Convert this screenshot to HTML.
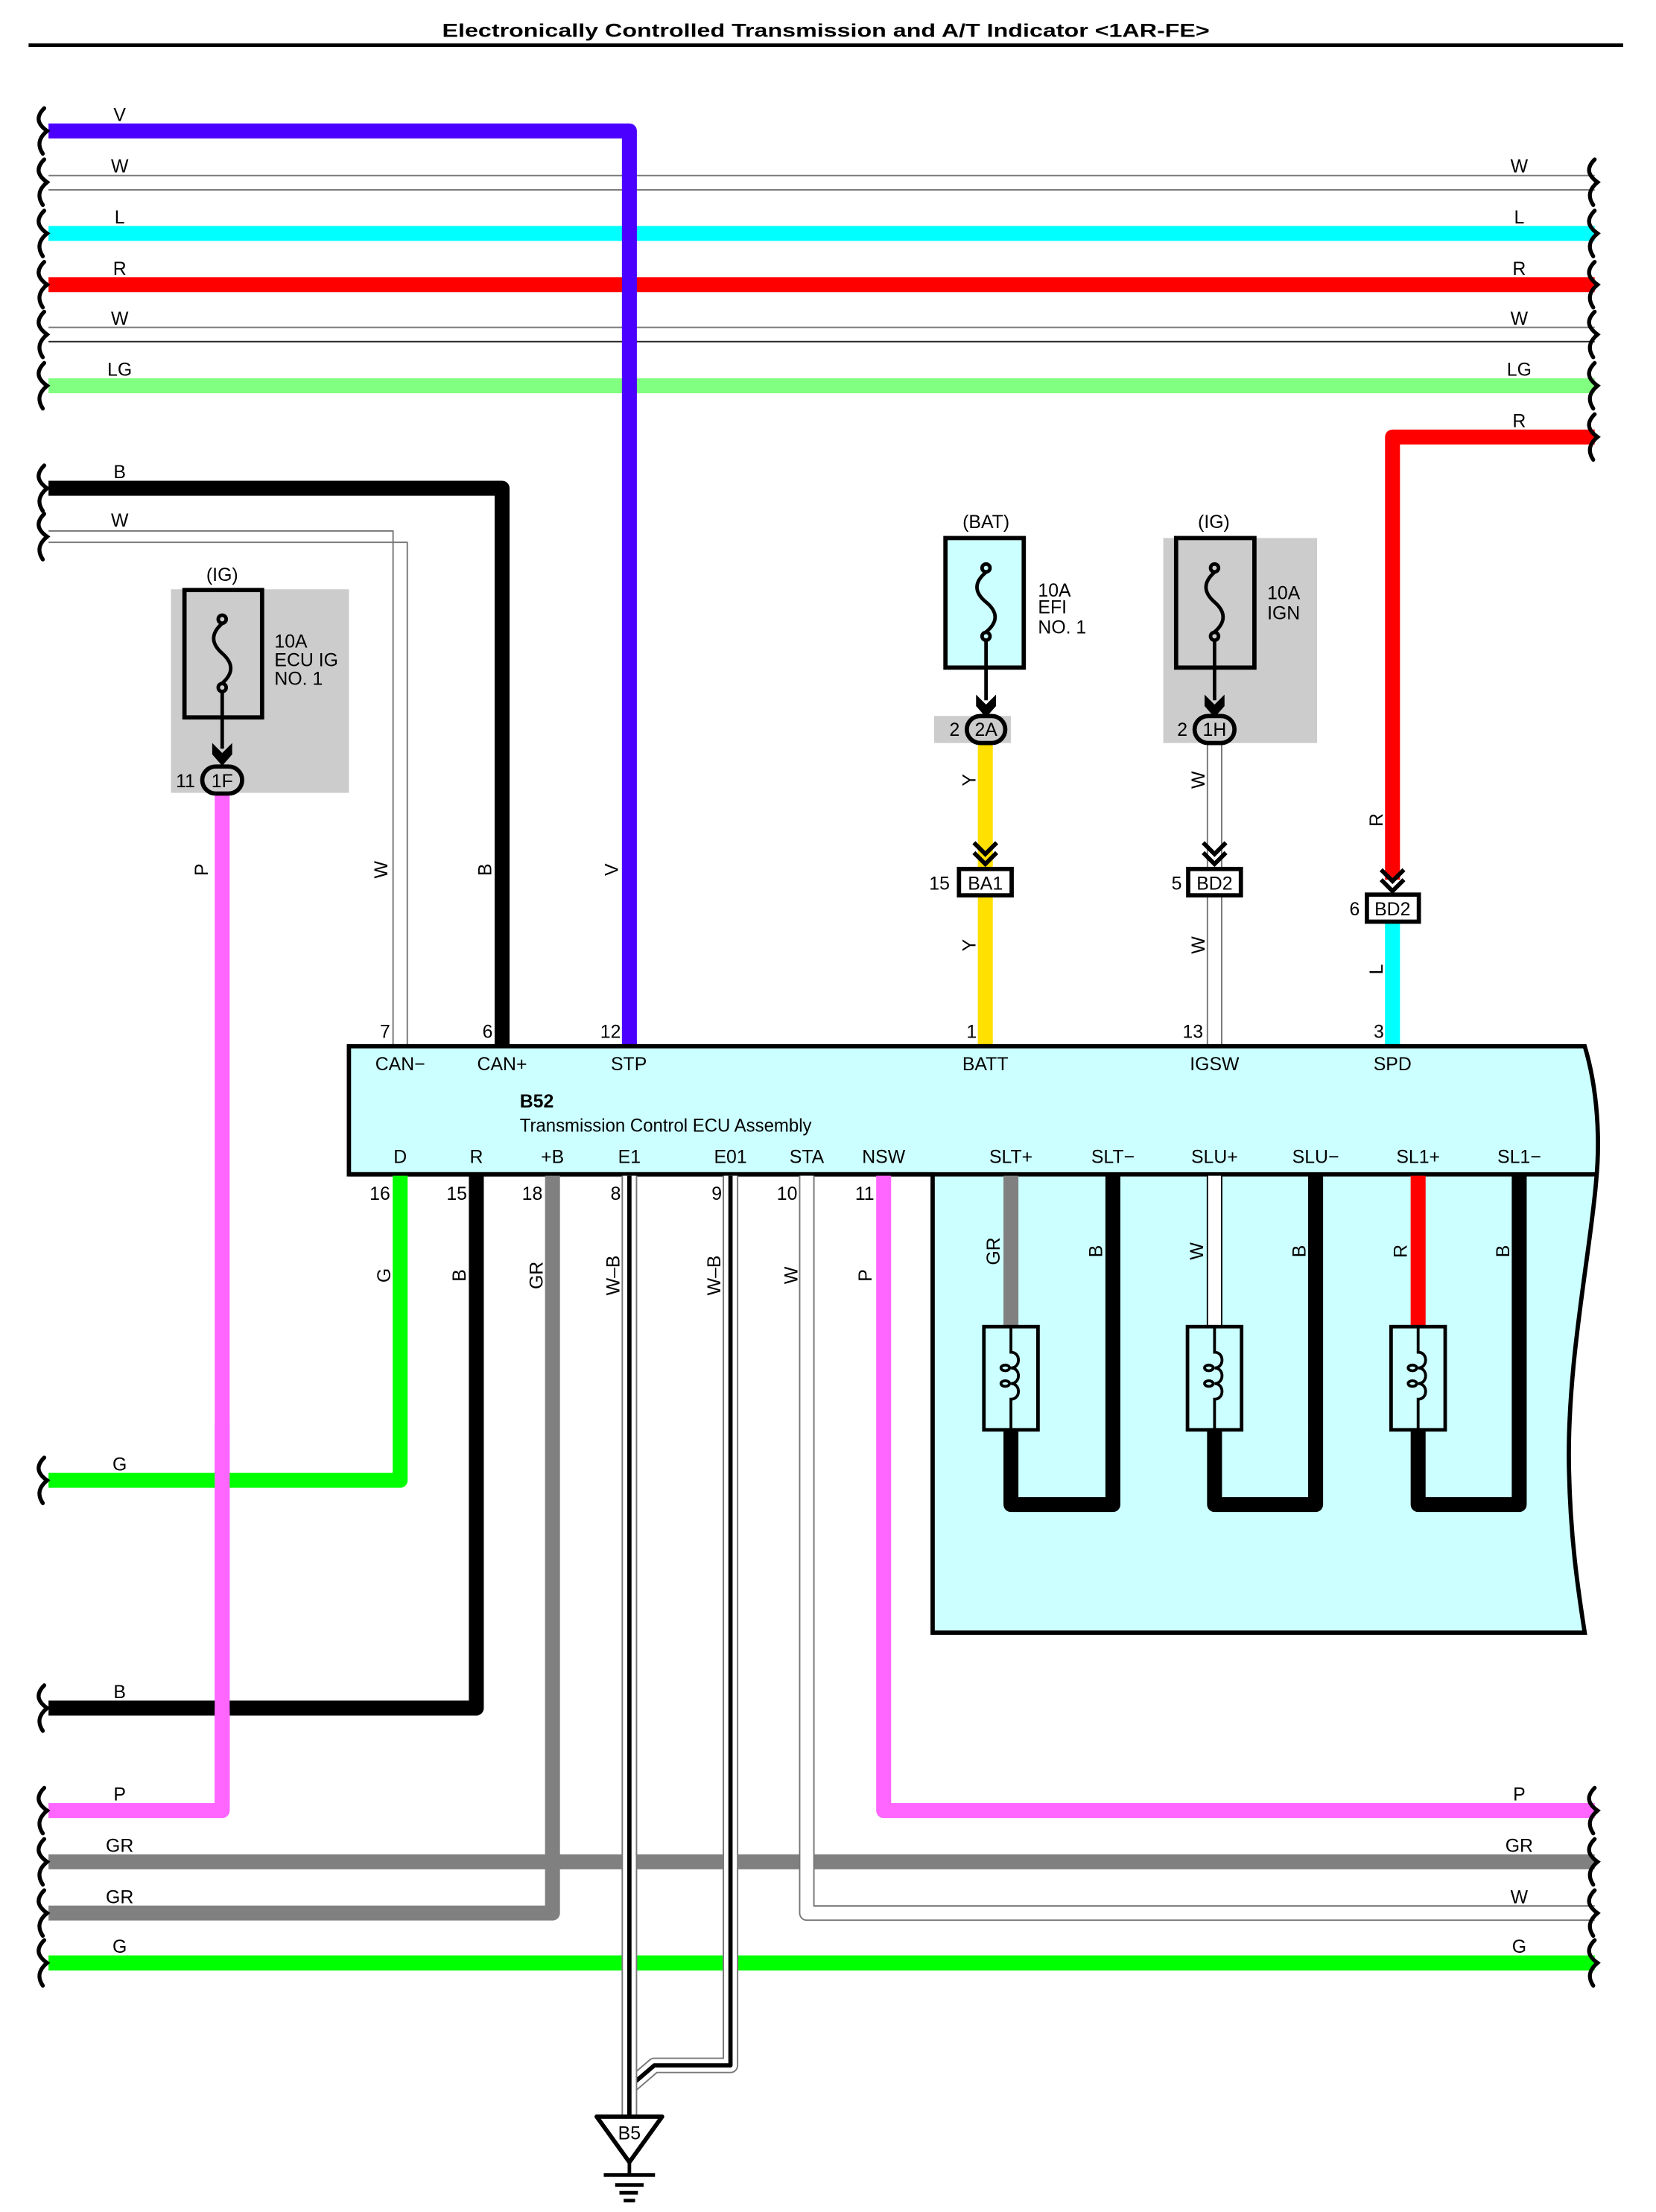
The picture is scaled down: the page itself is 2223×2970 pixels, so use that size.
<!DOCTYPE html>
<html><head><meta charset="utf-8"><style>
html,body{margin:0;padding:0;background:#fff}
svg{display:block}
text{font-family:"Liberation Sans",Arial,sans-serif;font-size:13px;fill:#000}
</style></head><body>
<svg width="2223" height="2970" viewBox="0 0 1163 1554" xmlns="http://www.w3.org/2000/svg">
<!-- title -->
<text x="580" y="26" text-anchor="middle" font-weight="bold" font-size="15.5" textLength="539" lengthAdjust="spacingAndGlyphs">Electronically Controlled Transmission and A/T Indicator &lt;1AR-FE&gt;</text>
<rect x="20" y="30.5" width="1120" height="2.5" fill="#000"/>

<g fill="none" stroke-linejoin="round">
<!-- top horizontals -->
<line x1="34" y1="164" x2="1120" y2="164" stroke="#00ffff" stroke-width="10.5"/>
<line x1="34" y1="200" x2="1120" y2="200" stroke="#ff0000" stroke-width="10.5"/>
<line x1="34" y1="271" x2="1120" y2="271" stroke="#80ff80" stroke-width="10.5"/>
<line x1="34" y1="123.3" x2="1120" y2="123.3" stroke="#777" stroke-width="1"/>
<line x1="34" y1="133.4" x2="1120" y2="133.4" stroke="#777" stroke-width="1"/>
<line x1="34" y1="230" x2="1120" y2="230" stroke="#777" stroke-width="1"/>
<line x1="34" y1="240" x2="1120" y2="240" stroke="#222" stroke-width="1"/>
<!-- V -->
<path d="M34,92 H442 V735" stroke="#4b00ff" stroke-width="10.5"/>
<!-- right R to BD2 -->
<path d="M1120,307 H978 V618" stroke="#ff0000" stroke-width="10.5"/>
<line x1="978" y1="648" x2="978" y2="735" stroke="#00ffff" stroke-width="10.5"/>
<!-- left B / W -->
<path d="M34,343 H352.6 V735" stroke="#000" stroke-width="10.5"/>
<path d="M34,373 H276 V735" stroke="#777" stroke-width="1"/>
<path d="M34,381 H286 V735" stroke="#777" stroke-width="1"/>
<!-- yellow -->
<line x1="692" y1="522" x2="692" y2="735" stroke="#ffe000" stroke-width="10.5"/>
<!-- W IGSW -->
<line x1="848" y1="522" x2="848" y2="735" stroke="#777" stroke-width="1"/>
<line x1="858" y1="522" x2="858" y2="735" stroke="#777" stroke-width="1"/>
</g>

<!-- fuse ECU IG -->
<rect x="120" y="414" width="125" height="143" fill="#cccccc"/>
<rect x="129.5" y="414.5" width="54.5" height="89.5" fill="none" stroke="#000" stroke-width="3"/>
<text x="156" y="408" text-anchor="middle">(IG)</text>
<text x="192.7" y="455">10A</text><text x="192.7" y="468">ECU IG</text><text x="192.7" y="481">NO. 1</text>
<g fill="none" stroke="#000" stroke-width="2.5">
<circle cx="156" cy="435" r="2.8"/><circle cx="156" cy="483" r="2.8"/>
<path d="M156,438 C148,445 148,452 156,459 C164,466 164,473 156,480"/>
<line x1="156" y1="486" x2="156" y2="526"/>
</g>
<polygon points="149,522 156,529 163,522 163,530 156,538 149,530" fill="#000"/>
<line x1="156" y1="557" x2="156" y2="1272" stroke="#ff66ff" stroke-width="10.5"/>
<rect x="142" y="538.5" width="28" height="19" rx="9.5" fill="#ccc" stroke="#000" stroke-width="3"/>
<text x="156" y="553" text-anchor="middle">1F</text>
<text x="137" y="553" text-anchor="end">11</text>

<!-- BAT fuse -->
<rect x="664" y="378" width="55" height="91" fill="#ccffff" stroke="#000" stroke-width="3"/>
<text x="692.5" y="371" text-anchor="middle">(BAT)</text>
<text x="729" y="419">10A</text><text x="729" y="431">EFI</text><text x="729" y="445">NO. 1</text>
<g fill="none" stroke="#000" stroke-width="2.5">
<circle cx="692.5" cy="399" r="2.8"/><circle cx="692.5" cy="447" r="2.8"/>
<path d="M692.5,402 C684,409 684,416 692.5,423 C701,430 701,437 692.5,444"/>
<line x1="692.5" y1="450" x2="692.5" y2="492"/>
</g>
<rect x="656" y="503" width="54" height="19" fill="#cccccc"/>
<polygon points="685.5,488 692.5,495 699.5,488 699.5,496 692.5,504 685.5,496" fill="#000"/>
<rect x="679" y="503" width="27" height="19" rx="9.5" fill="#ccc" stroke="#000" stroke-width="3"/>
<text x="692.5" y="517" text-anchor="middle">2A</text>
<text x="674" y="517" text-anchor="end">2</text>

<!-- IG fuse -->
<rect x="817" y="378" width="108" height="144" fill="#cccccc"/>
<rect x="826" y="378" width="55" height="91" fill="none" stroke="#000" stroke-width="3"/>
<text x="852.5" y="371" text-anchor="middle">(IG)</text>
<text x="890" y="421">10A</text><text x="890" y="435">IGN</text>
<g fill="none" stroke="#000" stroke-width="2.5">
<circle cx="853" cy="399" r="2.8"/><circle cx="853" cy="447" r="2.8"/>
<path d="M853,402 C845,409 845,416 853,423 C861,430 861,437 853,444"/>
<line x1="853" y1="450" x2="853" y2="492"/>
</g>
<polygon points="846,488 853,495 860,488 860,496 853,504 846,496" fill="#000"/>
<rect x="839" y="503" width="28" height="19" rx="9.5" fill="#ccc" stroke="#000" stroke-width="3"/>
<text x="853" y="517" text-anchor="middle">1H</text>
<text x="834" y="517" text-anchor="end">2</text>

<!-- inline connectors -->
<g fill="none" stroke="#000" stroke-width="3">
<polyline points="684,592 692,600 700,592"/><polyline points="684,599 692,607 700,599"/>
<polyline points="845,592 853,600 861,592"/><polyline points="845,599 853,607 861,599"/>
<polyline points="970,611 978,619 986,611"/><polyline points="970,618 978,626 986,618"/>
</g>
<rect x="673.5" y="610.5" width="37" height="18.5" fill="#fff" stroke="#000" stroke-width="3"/>
<text x="692" y="625" text-anchor="middle">BA1</text><text x="667" y="625" text-anchor="end">15</text>
<rect x="834.5" y="610.5" width="37" height="18.5" fill="#fff" stroke="#000" stroke-width="3"/>
<text x="853" y="625" text-anchor="middle">BD2</text><text x="830" y="625" text-anchor="end">5</text>
<rect x="960" y="628.5" width="36.5" height="19" fill="#fff" stroke="#000" stroke-width="3"/>
<text x="978" y="643" text-anchor="middle">BD2</text><text x="955" y="643" text-anchor="end">6</text>

<!-- ECU body -->
<path d="M245,735 H1113 C1122,765 1124,800 1121,830 C1117,880 1100,960 1102,1034 C1103,1080 1108,1115 1113,1147 H655 V825 H245 Z" fill="#ccffff" stroke="#000" stroke-width="3"/>
<line x1="245" y1="825" x2="1121" y2="825" stroke="#000" stroke-width="3"/>
<g text-anchor="middle">
<text x="281" y="752">CAN−</text><text x="352.6" y="752">CAN+</text><text x="441.6" y="752">STP</text>
<text x="692" y="752">BATT</text><text x="853" y="752">IGSW</text><text x="978" y="752">SPD</text>
<text x="281" y="817">D</text><text x="334.5" y="817">R</text><text x="388" y="817">+B</text><text x="442" y="817">E1</text>
<text x="513" y="817">E01</text><text x="566.6" y="817">STA</text><text x="620.6" y="817">NSW</text>
<text x="710" y="817">SLT+</text><text x="781.6" y="817">SLT−</text><text x="853" y="817">SLU+</text>
<text x="924" y="817">SLU−</text><text x="996" y="817">SL1+</text><text x="1067" y="817">SL1−</text>
</g>
<text x="365" y="778" font-weight="bold">B52</text>
<text x="365" y="795" textLength="205" lengthAdjust="spacingAndGlyphs">Transmission Control ECU Assembly</text>

<!-- top pin numbers -->
<g text-anchor="end">
<text x="274" y="729">7</text><text x="346" y="729">6</text><text x="436" y="729">12</text>
<text x="686" y="729">1</text><text x="845" y="729">13</text><text x="972" y="729">3</text>
<text x="274" y="843">16</text><text x="328" y="843">15</text><text x="381" y="843">18</text>
<text x="436" y="843">8</text><text x="507" y="843">9</text><text x="560" y="843">10</text><text x="614" y="843">11</text>
</g>

<!-- solenoids -->
<g fill="none" stroke-linejoin="round">
<line x1="710" y1="826" x2="710" y2="932" stroke="#808080" stroke-width="10.5"/>
<line x1="848" y1="826" x2="848" y2="932" stroke="#000" stroke-width="1"/>
<line x1="858" y1="826" x2="858" y2="932" stroke="#000" stroke-width="1"/>
<rect x="848.5" y="826" width="9" height="106" fill="#fff" stroke="none"/>
<line x1="996" y1="826" x2="996" y2="932" stroke="#ff0000" stroke-width="10.5"/>
<path d="M710,1004 V1057 H781.6 V826" stroke="#000" stroke-width="10.5"/>
<path d="M853,1004 V1057 H924 V826" stroke="#000" stroke-width="10.5"/>
<path d="M996,1004 V1057 H1067 V826" stroke="#000" stroke-width="10.5"/>
</g>
<g fill="#ccffff" stroke="#000" stroke-width="2.5">
<rect x="691" y="932" width="38" height="72.5"/>
<rect x="834" y="932" width="38" height="72.5"/>
<rect x="977" y="932" width="38" height="72.5"/>
</g>
<g fill="none" stroke="#000" stroke-width="2">
<path d="M710,932 V950 c7,0 7,11 0,11 c7,0 7,11 0,11 c7,0 7,11 0,11 V1004"/>
<ellipse cx="706" cy="961" rx="3" ry="2"/><ellipse cx="706" cy="972" rx="3" ry="2"/>
<path d="M853,932 V950 c7,0 7,11 0,11 c7,0 7,11 0,11 c7,0 7,11 0,11 V1004"/>
<ellipse cx="849" cy="961" rx="3" ry="2"/><ellipse cx="849" cy="972" rx="3" ry="2"/>
<path d="M996,932 V950 c7,0 7,11 0,11 c7,0 7,11 0,11 c7,0 7,11 0,11 V1004"/>
<ellipse cx="992" cy="961" rx="3" ry="2"/><ellipse cx="992" cy="972" rx="3" ry="2"/>
</g>

<!-- bottom horizontals -->
<g fill="none" stroke-linejoin="round">
<line x1="34" y1="1308" x2="1120" y2="1308" stroke="#808080" stroke-width="10.5"/>
<line x1="34" y1="1379" x2="1120" y2="1379" stroke="#00ff00" stroke-width="10.5"/>
<path d="M281,826 V1040 H34" stroke="#00ff00" stroke-width="10.5"/>
<path d="M334.5,826 V1200 H34" stroke="#000" stroke-width="10.5"/>
<path d="M388,826 V1344 H34" stroke="#808080" stroke-width="10.5"/>
<path d="M620.6,826 V1272 H1120" stroke="#ff66ff" stroke-width="10.5"/>
<path d="M156,1200 V1272 H34" stroke="#ff66ff" stroke-width="10.5"/>
<!-- STA W -->
<path d="M566.6,826 V1344 H1120" stroke="#777" stroke-width="11"/>
<path d="M566.6,826 V1344 H1120" stroke="#fff" stroke-width="9"/>
<!-- E01 -->
<path d="M513,826 V1451 H459.5 L442,1466" stroke="#777" stroke-width="11"/>
<path d="M513,826 V1451 H459.5 L442,1466" stroke="#fff" stroke-width="9"/>
<path d="M513,826 V1451 H459.5 L442,1466" stroke="#000" stroke-width="3"/>
<!-- E1 -->
<line x1="442" y1="826" x2="442" y2="1487" stroke="#777" stroke-width="11"/>
<line x1="442" y1="826" x2="442" y2="1487" stroke="#fff" stroke-width="9"/>
<line x1="442" y1="826" x2="442" y2="1487" stroke="#000" stroke-width="3"/>
</g>
<!-- pink on top of G/B crossings -->
<line x1="156" y1="1000" x2="156" y2="1267" stroke="#ff66ff" stroke-width="10.5"/>

<!-- ground -->
<polygon points="419,1487 465,1487 442,1519" fill="#fff" stroke="#000" stroke-width="3" stroke-linejoin="round"/>
<text x="442" y="1503" text-anchor="middle" font-size="12">B5</text>
<g stroke="#000" stroke-width="2.5">
<line x1="442" y1="1519" x2="442" y2="1528"/>
<line x1="424" y1="1528" x2="460" y2="1528"/>
<line x1="432" y1="1535" x2="452" y2="1535"/>
<line x1="435" y1="1540.5" x2="448" y2="1540.5"/>
<line x1="438" y1="1546" x2="446" y2="1546"/>
</g>

<!-- break marks -->
<g fill="none" stroke="#000" stroke-width="2.8" stroke-linecap="round">
<path id="lb" d="M31,-16 C25,-10 26,-5 33,0 C27,5 26,10 30,16" transform="translate(0,92)"/>
<path d="M31,-16 C25,-10 26,-5 33,0 C27,5 26,10 30,16" transform="translate(0,128)"/>
<path d="M31,-16 C25,-10 26,-5 33,0 C27,5 26,10 30,16" transform="translate(0,164)"/>
<path d="M31,-16 C25,-10 26,-5 33,0 C27,5 26,10 30,16" transform="translate(0,200)"/>
<path d="M31,-16 C25,-10 26,-5 33,0 C27,5 26,10 30,16" transform="translate(0,235)"/>
<path d="M31,-16 C25,-10 26,-5 33,0 C27,5 26,10 30,16" transform="translate(0,271)"/>
<path d="M31,-16 C25,-10 26,-5 33,0 C27,5 26,10 30,16" transform="translate(0,343)"/>
<path d="M31,-16 C25,-10 26,-5 33,0 C27,5 26,10 30,16" transform="translate(0,377)"/>
<path d="M31,-16 C25,-10 26,-5 33,0 C27,5 26,10 30,16" transform="translate(0,1040)"/>
<path d="M31,-16 C25,-10 26,-5 33,0 C27,5 26,10 30,16" transform="translate(0,1200)"/>
<path d="M31,-16 C25,-10 26,-5 33,0 C27,5 26,10 30,16" transform="translate(0,1272)"/>
<path d="M31,-16 C25,-10 26,-5 33,0 C27,5 26,10 30,16" transform="translate(0,1308)"/>
<path d="M31,-16 C25,-10 26,-5 33,0 C27,5 26,10 30,16" transform="translate(0,1344)"/>
<path d="M31,-16 C25,-10 26,-5 33,0 C27,5 26,10 30,16" transform="translate(0,1379)"/>
<g transform="translate(1089,0)">
<path d="M31,-16 C25,-10 26,-5 33,0 C27,5 26,10 30,16" transform="translate(0,128)"/>
<path d="M31,-16 C25,-10 26,-5 33,0 C27,5 26,10 30,16" transform="translate(0,164)"/>
<path d="M31,-16 C25,-10 26,-5 33,0 C27,5 26,10 30,16" transform="translate(0,200)"/>
<path d="M31,-16 C25,-10 26,-5 33,0 C27,5 26,10 30,16" transform="translate(0,235)"/>
<path d="M31,-16 C25,-10 26,-5 33,0 C27,5 26,10 30,16" transform="translate(0,271)"/>
<path d="M31,-16 C25,-10 26,-5 33,0 C27,5 26,10 30,16" transform="translate(0,307)"/>
<path d="M31,-16 C25,-10 26,-5 33,0 C27,5 26,10 30,16" transform="translate(0,1272)"/>
<path d="M31,-16 C25,-10 26,-5 33,0 C27,5 26,10 30,16" transform="translate(0,1308)"/>
<path d="M31,-16 C25,-10 26,-5 33,0 C27,5 26,10 30,16" transform="translate(0,1344)"/>
<path d="M31,-16 C25,-10 26,-5 33,0 C27,5 26,10 30,16" transform="translate(0,1379)"/>
</g>
</g>

<!-- wire labels -->
<g text-anchor="middle">
<text x="84" y="85">V</text><text x="84" y="121">W</text><text x="84" y="157">L</text><text x="84" y="193">R</text>
<text x="84" y="228">W</text><text x="84" y="264">LG</text><text x="84" y="336">B</text><text x="84" y="370">W</text>
<text x="84" y="1033">G</text><text x="84" y="1193">B</text><text x="84" y="1265">P</text><text x="84" y="1301">GR</text>
<text x="84" y="1337">GR</text><text x="84" y="1372">G</text>
<text x="1067" y="121">W</text><text x="1067" y="157">L</text><text x="1067" y="193">R</text><text x="1067" y="228">W</text>
<text x="1067" y="264">LG</text><text x="1067" y="300">R</text><text x="1067" y="1265">P</text><text x="1067" y="1301">GR</text>
<text x="1067" y="1337">W</text><text x="1067" y="1372">G</text>
</g>
<!-- rotated labels -->
<g text-anchor="middle">
<text transform="translate(146,611) rotate(-90)">P</text>
<text transform="translate(272,611) rotate(-90)">W</text>
<text transform="translate(345,611) rotate(-90)">B</text>
<text transform="translate(434,611) rotate(-90)">V</text>
<text transform="translate(685,548) rotate(-90)">Y</text>
<text transform="translate(685,664) rotate(-90)">Y</text>
<text transform="translate(846,548) rotate(-90)">W</text>
<text transform="translate(846,664) rotate(-90)">W</text>
<text transform="translate(971,576) rotate(-90)">R</text>
<text transform="translate(971,681) rotate(-90)">L</text>
<text transform="translate(274,896) rotate(-90)">G</text>
<text transform="translate(327,896) rotate(-90)">B</text>
<text transform="translate(381,896) rotate(-90)">GR</text>
<text transform="translate(435,896) rotate(-90)">W–B</text>
<text transform="translate(506,896) rotate(-90)">W–B</text>
<text transform="translate(560,896) rotate(-90)">W</text>
<text transform="translate(612,896) rotate(-90)">P</text>
<text transform="translate(702,879) rotate(-90)">GR</text>
<text transform="translate(774,879) rotate(-90)">B</text>
<text transform="translate(845,879) rotate(-90)">W</text>
<text transform="translate(917,879) rotate(-90)">B</text>
<text transform="translate(988,879) rotate(-90)">R</text>
<text transform="translate(1060,879) rotate(-90)">B</text>
</g>
</svg>
</body></html>
